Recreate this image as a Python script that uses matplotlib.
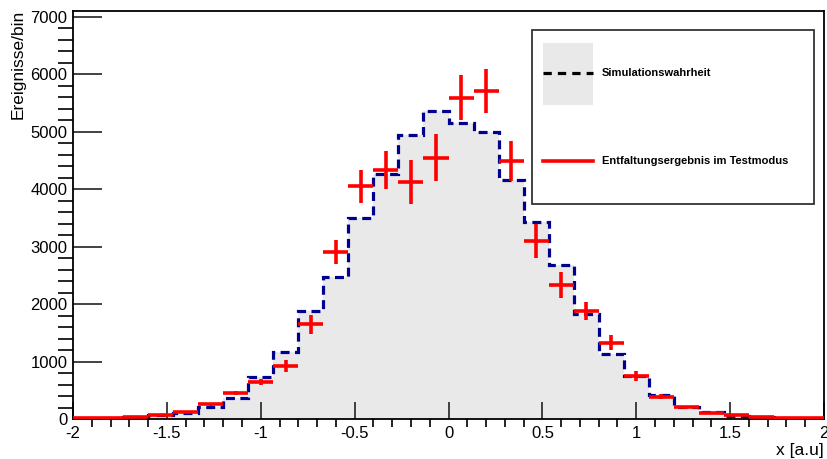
import numpy as np
import matplotlib
matplotlib.use("Agg")
import matplotlib.pyplot as plt
from matplotlib.patches import Rectangle
from matplotlib.lines import Line2D

# 30 bins from -2 to 2
bin_edges = np.linspace(-2, 2, 31)

# simulation truth (blue dashed histogram)
truth = [10, 15, 30, 75, 110, 215, 360, 735, 1165, 1885,
         2465, 3490, 4260, 4940, 5355, 5150, 4990, 4155, 3430, 2680,
         1820, 1125, 740, 410, 215, 125, 50, 30, 18, 10]

# unfolded result in test mode (red points with errors)
unfolded = [10, 15, 30, 70, 128, 260, 445, 645, 930, 1645,
            2910, 4050, 4330, 4125, 4550, 5590, 5705, 4495, 3100, 2330,
            1885, 1330, 750, 390, 207, 110, 70, 40, 20, 12]
unfolded_err = [5, 6, 8, 12, 18, 25, 35, 50, 105, 170,
                210, 285, 335, 375, 405, 395, 385, 350, 290, 232,
                160, 136, 80, 45, 25, 15, 10, 8, 5, 4]

x_ticks = [-2, -1.5, -1, -0.5, 0, 0.5, 1, 1.5, 2]
x_ticklabels = ["-2", "-1.5", "-1", "-0.5", "0", "0.5", "1", "1.5", "2"]
y_ticks = [0, 1000, 2000, 3000, 4000, 5000, 6000, 7000]

legend_labels = ['Simulationswahrheit', 'Entfaltungsergebnis im Testmodus']

plt.rcParams['font.family'] = ['Liberation Sans', 'DejaVu Sans']
plt.rcParams['hatch.color'] = '#d2d2d2'
plt.rcParams['hatch.linewidth'] = 0.6

fill_col = '#e9e9e9'
blue = '#00008f'
red = '#ff0000'
lw = 2.3
dash = (0, (2.8, 1.7))

fig = plt.figure(figsize=(8.27, 4.59), dpi=100)
ax = fig.add_axes([0.0883, 0.0871, 0.9081, 0.8889])

centers = 0.5 * (bin_edges[:-1] + bin_edges[1:])
half_w = 0.5 * (bin_edges[1] - bin_edges[0])

# filled truth histogram
ax.stairs(truth, bin_edges, fill=True, facecolor=fill_col, edgecolor='none',
          hatch='....', zorder=1)
ax.stairs(truth, bin_edges, color=blue, linewidth=lw, linestyle=dash,
          zorder=2, baseline=None)

# unfolded points
ax.errorbar(centers, unfolded, xerr=half_w, yerr=unfolded_err, fmt='none',
            ecolor=red, elinewidth=lw + 0.3, capsize=0, zorder=3)

ax.set_xlim(-2, 2)
ax.set_ylim(0, 7100)
ax.set_xticks(x_ticks)
ax.set_xticklabels(x_ticklabels)
ax.set_xticks(np.arange(-2, 2.001, 0.1), minor=True)
ax.set_yticks(y_ticks)
ax.set_yticks(np.arange(0, 7001, 200), minor=True)

ax.tick_params(axis='both', direction='in', labelsize=12, width=1.2, color='#222222')
ax.tick_params(axis='x', which='major', length=12, pad=5)
ax.tick_params(axis='x', which='minor', length=6, width=1.2)
ax.tick_params(axis='y', which='major', length=21, pad=4)
ax.tick_params(axis='y', which='minor', length=11, width=1.2)
for s in ax.spines.values():
    s.set_linewidth(1.3)

ax.set_ylabel('Ereignisse/bin', fontsize=12.5)
ax.yaxis.set_label_coords(-0.063, 1.003)
ax.yaxis.label.set_horizontalalignment('right')
ax.set_xlabel('x [a.u]', fontsize=12.5)
ax.xaxis.set_label_coords(1.0, -0.078)
ax.xaxis.label.set_horizontalalignment('right')
ax.xaxis.label.set_verticalalignment('center')

# legend box drawn by hand (ROOT TLegend style)
T = ax.transAxes
ax.add_patch(Rectangle((0.611, 0.527), 0.376, 0.426, transform=T,
                       facecolor='white', edgecolor='#222222', linewidth=1.2,
                       zorder=5))
ax.add_patch(Rectangle((0.6258, 0.7696), 0.0666, 0.152, transform=T,
                       facecolor=fill_col, edgecolor='none', hatch='....',
                       zorder=6))
ax.add_line(Line2D([0.6258, 0.6924], [0.848, 0.848], transform=T, color='black',
                   linewidth=lw, linestyle=(0, (2.6, 1.9)), zorder=7))
ax.add_line(Line2D([0.6258, 0.6924], [0.632, 0.632], transform=T, color=red,
                   linewidth=lw + 0.3, zorder=7))
ax.text(0.7044, 0.848, legend_labels[0], transform=T, fontsize=8,
        fontweight='bold', va='center', ha='left', zorder=8)
ax.text(0.7044, 0.632, legend_labels[1], transform=T, fontsize=8,
        fontweight='bold', va='center', ha='left', zorder=8)

fig.savefig('out.png', dpi=100)
